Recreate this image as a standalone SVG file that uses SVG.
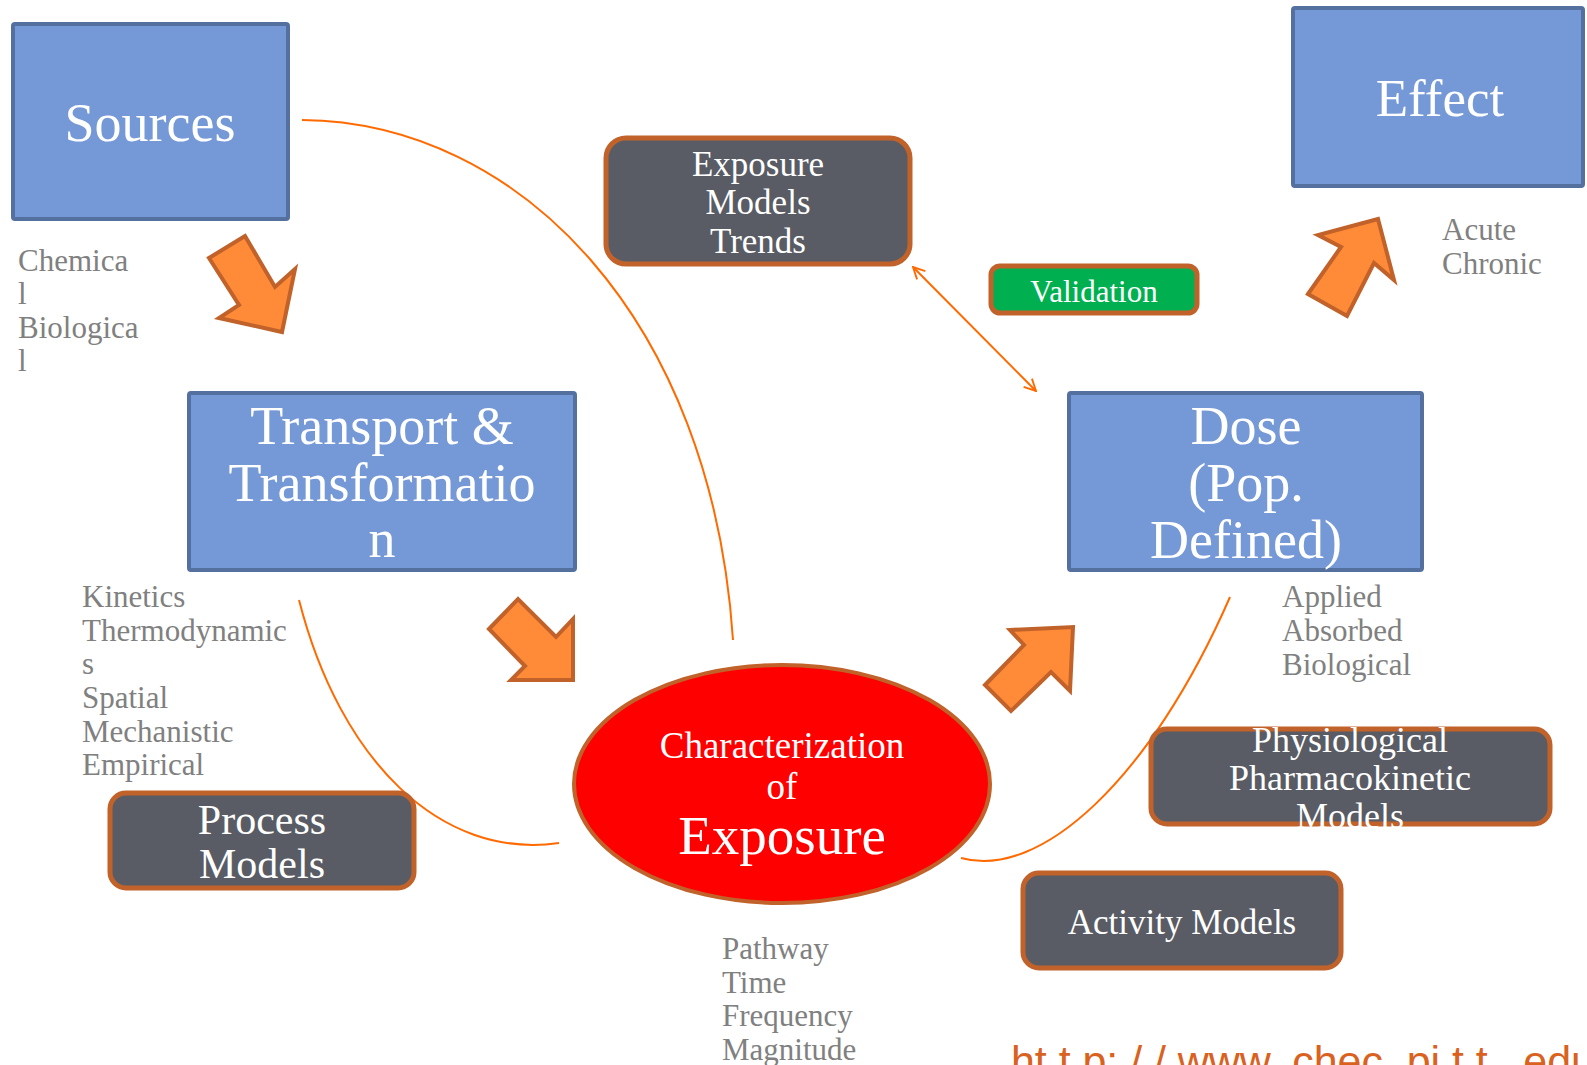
<svg xmlns="http://www.w3.org/2000/svg" width="1587" height="1065" viewBox="0 0 1587 1065">
<defs>
<style>
.blue{fill:#7598d6;stroke:#53709f;stroke-width:4}
.dark{fill:#595c64;stroke:#c0622a;stroke-width:5}
.green{fill:#00b050;stroke:#c0622a;stroke-width:5}
.barrow{fill:#ff8a37;stroke:#c0622a;stroke-width:4;stroke-linejoin:miter}
.conn{fill:none;stroke:#ff6a00;stroke-width:2}
.t{font-family:"Liberation Serif","Times New Roman",serif;fill:#ffffff;text-anchor:middle}
.g{font-family:"Liberation Serif","Times New Roman",serif;fill:#808080;font-size:31px}
.url{font-family:"Liberation Sans",Arial,sans-serif;fill:#d9621f;font-size:43px}
</style>
<marker id="open" viewBox="0 0 12 12" refX="11" refY="6" markerWidth="14" markerHeight="14" markerUnits="userSpaceOnUse" orient="auto-start-reverse">
<path d="M1,1 L11,6 L1,11" fill="none" stroke="#ff6a00" stroke-width="1.6"/>
</marker>
</defs>
<rect width="1587" height="1065" fill="#ffffff"/>

<g id="connectors">
<path class="conn" d="M302,120 C520,122 712,320 733,640"/>
<path class="conn" d="M299,600 C340,760 440,860 559,843"/>
<path class="conn" d="M1230,597 C1150,780 1040,880 961,858"/>
<line class="conn" x1="913" y1="267" x2="1036" y2="391" marker-start="url(#open)" marker-end="url(#open)"/>
</g>

<g id="block-arrows">
<polygon class="barrow" points="209,258 245,236 275,287 295,269 282,332 219,318 239,305"/>
<polygon class="barrow" points="489,629 518,599 556,637 573,619 573,680 511,680 525,666"/>
<polygon class="barrow" points="985,685 1024,645 1010,630 1073,627 1070,691 1051,672 1011,711"/>
<polygon class="barrow" points="1308,294 1341,247 1318,235 1378,219 1394,280 1374,263 1347,316"/>
</g>

<g id="sources">
<rect class="blue" x="13" y="24" width="275" height="195" rx="2"/>
<text class="t" x="150" y="141" font-size="54">Sources</text>
</g>

<g id="effect">
<rect class="blue" x="1293" y="8" width="290" height="178" rx="2"/>
<text class="t" x="1440" y="116" font-size="53">Effect</text>
</g>

<g id="transport">
<rect class="blue" x="189" y="393" width="386" height="177" rx="2"/>
<text class="t" x="382" y="444" font-size="54">Transport &amp;</text>
<text class="t" x="382" y="501" font-size="54">Transformatio</text>
<text class="t" x="382" y="557" font-size="54">n</text>
</g>

<g id="dose">
<rect class="blue" x="1069" y="393" width="353" height="177" rx="2"/>
<text class="t" x="1246" y="444" font-size="54">Dose</text>
<text class="t" x="1246" y="501" font-size="54">(Pop.</text>
<text class="t" x="1246" y="558" font-size="54">Defined)</text>
</g>

<g id="exposure-models">
<rect class="dark" x="606" y="138" width="304" height="126" rx="20"/>
<text class="t" x="758" y="176" font-size="35">Exposure</text>
<text class="t" x="758" y="214" font-size="35">Models</text>
<text class="t" x="758" y="253" font-size="35">Trends</text>
</g>

<g id="validation">
<rect class="green" x="991" y="266" width="206" height="47" rx="9"/>
<text class="t" x="1094" y="302" font-size="31">Validation</text>
</g>

<g id="characterization">
<ellipse cx="782" cy="784" rx="208" ry="119" fill="#ff0000" stroke="#c0622a" stroke-width="4"/>
<text class="t" x="782" y="758" font-size="37">Characterization</text>
<text class="t" x="782" y="799" font-size="37">of</text>
<text class="t" x="782" y="854" font-size="55">Exposure</text>
</g>

<g id="process-models">
<rect class="dark" x="110" y="793" width="304" height="95" rx="16"/>
<text class="t" x="262" y="834" font-size="42">Process</text>
<text class="t" x="262" y="878" font-size="42">Models</text>
</g>

<g id="pbpk-models">
<rect class="dark" x="1151" y="729" width="399" height="95" rx="16"/>
<text class="t" x="1350" y="752" font-size="36">Physiological</text>
<text class="t" x="1350" y="790" font-size="36">Pharmacokinetic</text>
<text class="t" x="1350" y="828" font-size="36">Models</text>
</g>

<g id="activity-models">
<rect class="dark" x="1023" y="873" width="318" height="95" rx="16"/>
<text class="t" x="1182" y="934" font-size="35">Activity Models</text>
</g>

<g id="labels">
<text class="g" x="18" y="271">Chemica</text>
<text class="g" x="18" y="304">l</text>
<text class="g" x="18" y="338">Biologica</text>
<text class="g" x="18" y="371">l</text>
<text class="g" x="82" y="607">Kinetics</text>
<text class="g" x="82" y="641">Thermodynamic</text>
<text class="g" x="82" y="674">s</text>
<text class="g" x="82" y="708">Spatial</text>
<text class="g" x="82" y="742">Mechanistic</text>
<text class="g" x="82" y="775">Empirical</text>
<text class="g" x="1282" y="607">Applied</text>
<text class="g" x="1282" y="641">Absorbed</text>
<text class="g" x="1282" y="675">Biological</text>
<text class="g" x="1442" y="240">Acute</text>
<text class="g" x="1442" y="274">Chronic</text>
<text class="g" x="722" y="959">Pathway</text>
<text class="g" x="722" y="993">Time</text>
<text class="g" x="722" y="1026">Frequency</text>
<text class="g" x="722" y="1060">Magnitude</text>
<text class="url" x="1011" y="1076" textLength="584">ht t p: / / www. chec. pi t t . edu</text>
</g>
</svg>
